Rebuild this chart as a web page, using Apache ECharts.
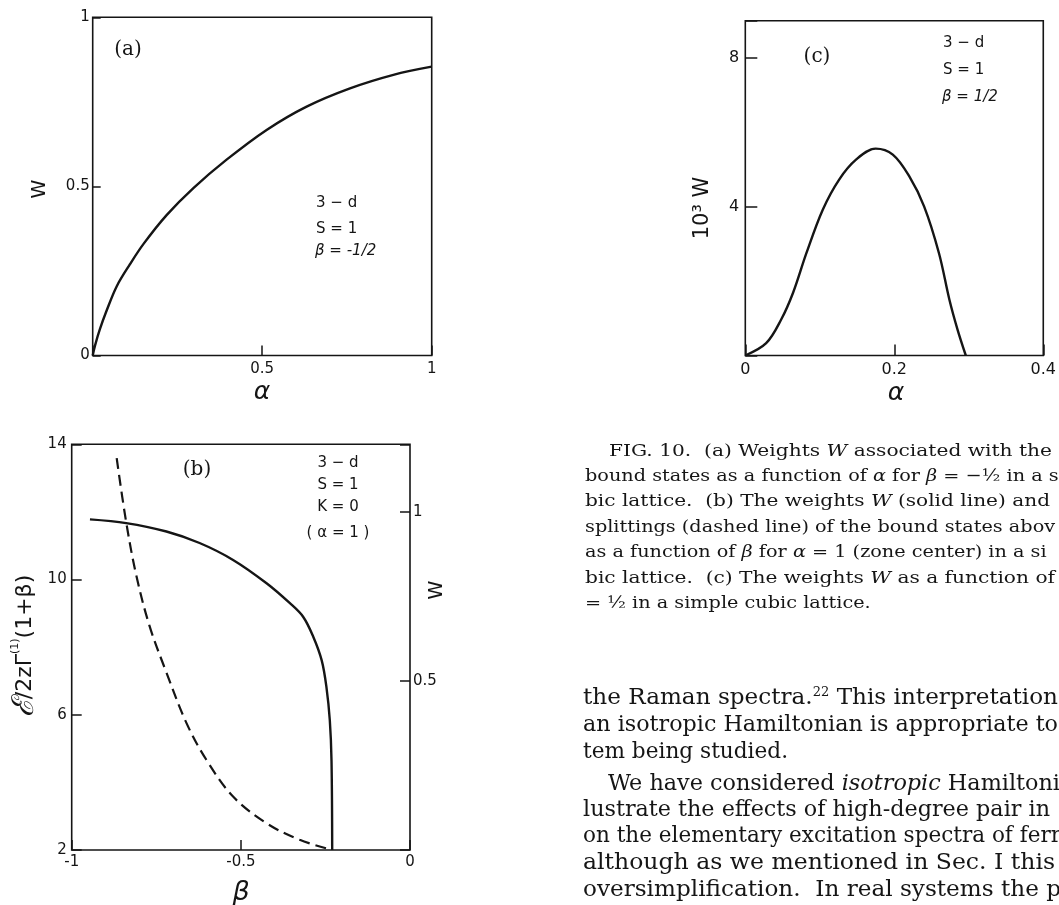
<!DOCTYPE html>
<html>
<head>
<meta charset="utf-8">
<script src="https://cdn.jsdelivr.net/npm/echarts@6/dist/echarts.min.js"></script>
<style>
  html, body { margin: 0; padding: 0; background: #fff; }
  #main { width: 1059px; height: 905px; }
</style>
</head>
<body>
<div id="main"></div>
<script>
// (a) weight W of the bound states versus alpha, beta = -1/2
const aAlpha = [0, 0.007, 0.021, 0.04, 0.071, 0.11, 0.15, 0.218, 0.297, 0.395, 0.513, 0.631, 0.759, 0.887, 1];
const aW     = [0, 0.03, 0.077, 0.13, 0.205, 0.27, 0.33, 0.415, 0.495, 0.579, 0.667, 0.736, 0.790, 0.830, 0.854];

// (b) weight W (solid, right axis) versus beta at alpha = 1
const bBetaW = [-0.946, -0.839, -0.720, -0.622, -0.523, -0.424, -0.355, -0.316, -0.286, -0.261, -0.247, -0.237, -0.232, -0.230];
const bW     = [0.978, 0.967, 0.942, 0.908, 0.858, 0.789, 0.730, 0.690, 0.631, 0.561, 0.482, 0.383, 0.264, 0];
// (b) splitting (dashed, left axis) versus beta at alpha = 1
const bBetaE = [-0.867, -0.839, -0.809, -0.770, -0.720, -0.661, -0.602, -0.523, -0.424, -0.326, -0.237];
const bE     = [13.59, 11.70, 10.12, 8.63, 7.25, 5.76, 4.67, 3.58, 2.79, 2.30, 2.02];

// (c) 10^3 W versus alpha, beta = 1/2
const cAlpha = [0, 0.028, 0.048, 0.064, 0.082, 0.104, 0.126, 0.149, 0.175, 0.198, 0.220, 0.240, 0.260, 0.274, 0.285, 0.296];
const cW     = [0, 0.33, 0.96, 1.68, 2.75, 3.92, 4.73, 5.27, 5.56, 5.40, 4.82, 4.01, 2.75, 1.50, 0.69, 0];

// tick labels shown on each axis
const aXLabels = ['0.5', '1'];
const aYLabels = ['0', '0.5', '1'];
const bXLabels = ['-1', '-0.5', '0'];
const bYLeftLabels = ['2', '6', '10', '14'];
const bYRightLabels = ['0.5', '1'];
const cXLabels = ['0', '0.2', '0.4'];
const cYLabels = ['4', '8'];

// caption and running text set beside the figure
const captionLines = [
  [['FIG. 10.  (a) Weights '], ['W', 'i'], [' associated with the']],
  [['bound states as a function of '], ['α', 'i'], [' for '], ['β', 'i'], [' = −½ in a s']],
  [['bic lattice.  (b) The weights '], ['W', 'i'], [' (solid line) and']],
  [['splittings (dashed line) of the bound states abov']],
  [['as a function of '], ['β', 'i'], [' for '], ['α', 'i'], [' = 1 (zone center) in a si']],
  [['bic lattice.  (c) The weights '], ['W', 'i'], [' as a function of']],
  [['= ½ in a simple cubic lattice.']]
];
const bodyLines = [
  [['the Raman spectra.'], ['22', 's'], [' This interpretation']],
  [['an isotropic Hamiltonian is appropriate to']],
  [['tem being studied.']],
  [['We have considered '], ['isotropic', 'i'], [' Hamiltoni']],
  [['lustrate the effects of high-degree pair in']],
  [['on the elementary excitation spectra of ferr']],
  [['although as we mentioned in Sec. I this']],
  [['oversimplification.  In real systems the p']]
];

const INK = '#151515';
const SANS = '"DejaVu Sans", sans-serif';
const SERIF = '"DejaVu Serif", serif';

const zip = (xs, ys) => xs.map((x, i) => [x, ys[i]]);
const fmt = v => String(Math.round(v * 100) / 100);
const pick = list => v => (list.indexOf(fmt(v)) >= 0 ? fmt(v) : '');

function valueAxis(extra) {
  return Object.assign({
    type: 'value',
    splitLine: { show: false },
    axisLine: { show: false, onZero: false },
    axisTick: { inside: true, length: 9, lineStyle: { color: INK, width: 1.5 } },
    axisLabel: { color: INK, fontFamily: SANS, fontSize: 15, margin: 5 }
  }, extra);
}
function tick(len) {
  return { inside: true, length: len, lineStyle: { color: INK, width: 1.5 } };
}
function tickLabel(margin, list, size) {
  return { color: INK, fontFamily: SANS, fontSize: size || 15, margin: margin, formatter: pick(list) };
}

// text helpers: each line is laid out as rich text and stretched to its measure
const measureCtx = document.createElement('canvas').getContext('2d');
function segFont(kind, size) {
  if (kind === 'i') return 'italic ' + size + 'px ' + SERIF;
  if (kind === 's') return Math.round(size * 0.55) + 'px ' + SERIF;
  return size + 'px ' + SERIF;
}
function textLine(segs, x, y, size, rightEdge, defaultScale) {
  let str = '';
  let width = 0;
  segs.forEach(([t, k]) => {
    const kind = k || 'n';
    str += '{' + kind + '|' + t + '}';
    measureCtx.font = segFont(kind, size);
    width += measureCtx.measureText(t).width;
  });
  const sx = rightEdge ? (rightEdge - x) / width : defaultScale;
  return {
    type: 'text', x: x, y: y, scaleX: sx, silent: true,
    style: {
      text: str, x: 0, y: 0, fill: INK,
      font: size + 'px ' + SERIF,
      textAlign: 'left', textVerticalAlign: 'middle',
      rich: {
        n: { font: segFont('n', size), fill: INK },
        i: { font: segFont('i', size), fill: INK },
        s: { font: segFont('s', size), fill: INK, verticalAlign: 'top' }
      }
    }
  };
}
function label(x, y, text, font, rot, rich) {
  const el = {
    type: 'text', x: x, y: y, rotation: rot || 0, silent: true,
    style: { text: text, x: 0, y: 0, font: font, fill: INK, textAlign: 'center', textVerticalAlign: 'middle' }
  };
  if (rich) el.style.rich = rich;
  return el;
}
function note(x, y, text, font) {
  const el = label(x, y, text, font);
  el.style.textAlign = 'left';
  return el;
}

const graphics = [];
// panel (a)
graphics.push(label(128, 50, '(a)', '20px ' + SERIF));
graphics.push(label(40, 189, 'W', '19px ' + SANS, Math.PI / 2));
graphics.push(label(262, 392, 'α', 'italic 25px ' + SANS));
graphics.push(note(316, 203, '3 − d', '15px ' + SANS));
graphics.push(note(316, 229, 'S = 1', '15px ' + SANS));
graphics.push(note(315, 251, 'β = -1/2', 'italic 15px ' + SANS));
// panel (c)
graphics.push(label(817, 57, '(c)', '20px ' + SERIF));
graphics.push(label(703, 208, '10³ W', '21px ' + SANS, Math.PI / 2));
graphics.push(label(896, 393, 'α', 'italic 25px ' + SANS));
graphics.push(note(943, 43, '3 − d', '15px ' + SANS));
graphics.push(note(943, 70, 'S = 1', '15px ' + SANS));
graphics.push(note(942, 97, 'β = 1/2', 'italic 15px ' + SANS));
// panel (b)
graphics.push(label(197, 470, '(b)', '20px ' + SERIF));
graphics.push(label(338, 463, '3 − d', '15px ' + SANS));
graphics.push(label(338, 485, 'S = 1', '15px ' + SANS));
graphics.push(label(338, 507, 'K = 0', '15px ' + SANS));
graphics.push(label(338, 533, '( α = 1 )', '15px ' + SANS));
graphics.push(label(241, 893, 'β', 'italic 27px ' + SANS));
graphics.push(label(437, 590, 'W', '19px ' + SANS, Math.PI / 2));
graphics.push(label(25, 646, '{e|ℰ}{n|/2zΓ}{s|(1)}{n|(1+β)}', '22px ' + SANS, Math.PI / 2, {
  e: { font: 'italic 30px ' + SERIF, fill: INK },
  n: { font: '22px ' + SANS, fill: INK },
  s: { font: '11px ' + SANS, fill: INK, verticalAlign: 'top' }
}));

// caption block
const capY0 = 451, capStep = 25.4;
const capRight = [1052, null, 1050, null, null, 1055, null];
captionLines.forEach((segs, i) => {
  const x = i === 0 ? 609 : 585;
  graphics.push(textLine(segs, x, capY0 + i * capStep, 17.5, capRight[i], 1.10));
});
// running text (justified lines run to the right margin)
const bodyY = [698, 725, 752, 784, 810, 836, 863, 890];
const bodyRight = [1058, 1058, null, 1060, 1050, 1061, 1055, 1061];
bodyLines.forEach((segs, i) => {
  const x = i === 3 ? 608 : 583;
  graphics.push(textLine(segs, x, bodyY[i], 23, bodyRight[i], 0.94));
});

const chart = echarts.init(document.getElementById('main'), null, { renderer: 'canvas' });
const frame = { show: true, borderColor: INK, borderWidth: 1.6, backgroundColor: 'transparent', containLabel: false };

chart.setOption({
  backgroundColor: '#ffffff',
  animation: false,
  grid: [
    Object.assign({ left: 92.7, top: 17.3, width: 339, height: 338.2 }, frame),
    Object.assign({ left: 745.3, top: 20.7, width: 298.2, height: 334.8 }, frame),
    Object.assign({ left: 71.7, top: 444.3, width: 338.3, height: 405.7 }, frame)
  ],
  xAxis: [
    valueAxis({ gridIndex: 0, min: 0, max: 1, interval: 0.5, axisTick: tick(10), axisLabel: tickLabel(6, aXLabels) }),
    valueAxis({ gridIndex: 1, min: 0, max: 0.4, interval: 0.2, axisTick: tick(11), axisLabel: tickLabel(6, cXLabels, 16) }),
    valueAxis({ gridIndex: 2, min: -1, max: 0, interval: 0.5, axisTick: tick(10), axisLabel: tickLabel(5, bXLabels) })
  ],
  yAxis: [
    valueAxis({ gridIndex: 0, min: 0, max: 1, interval: 0.5, axisTick: tick(8), axisLabel: tickLabel(3, aYLabels) }),
    valueAxis({ gridIndex: 1, min: 0, max: 9, interval: 4, axisTick: tick(12), axisLabel: tickLabel(6, cYLabels, 16) }),
    valueAxis({ gridIndex: 2, position: 'left', min: 2, max: 14, interval: 4, axisTick: tick(10), axisLabel: tickLabel(5, bYLeftLabels) }),
    valueAxis({ gridIndex: 2, position: 'right', min: 0, max: 1.2, interval: 0.5, axisTick: tick(10), axisLabel: tickLabel(3, bYRightLabels) })
  ],
  series: [
    { type: 'line', xAxisIndex: 0, yAxisIndex: 0, data: zip(aAlpha, aW), showSymbol: false,
      smooth: 0.35, lineStyle: { color: INK, width: 2.4 } },
    { type: 'line', xAxisIndex: 1, yAxisIndex: 1, data: zip(cAlpha, cW), showSymbol: false,
      smooth: 0.35, lineStyle: { color: INK, width: 2.4 } },
    { type: 'line', xAxisIndex: 2, yAxisIndex: 3, data: zip(bBetaW, bW), showSymbol: false,
      smooth: 0.35, lineStyle: { color: INK, width: 2.4 } },
    { type: 'line', xAxisIndex: 2, yAxisIndex: 2, data: zip(bBetaE, bE), showSymbol: false,
      smooth: 0.35, lineStyle: { color: INK, width: 2.2, type: [11, 6] } }
  ],
  graphic: graphics
});
</script>
</body>
</html>
